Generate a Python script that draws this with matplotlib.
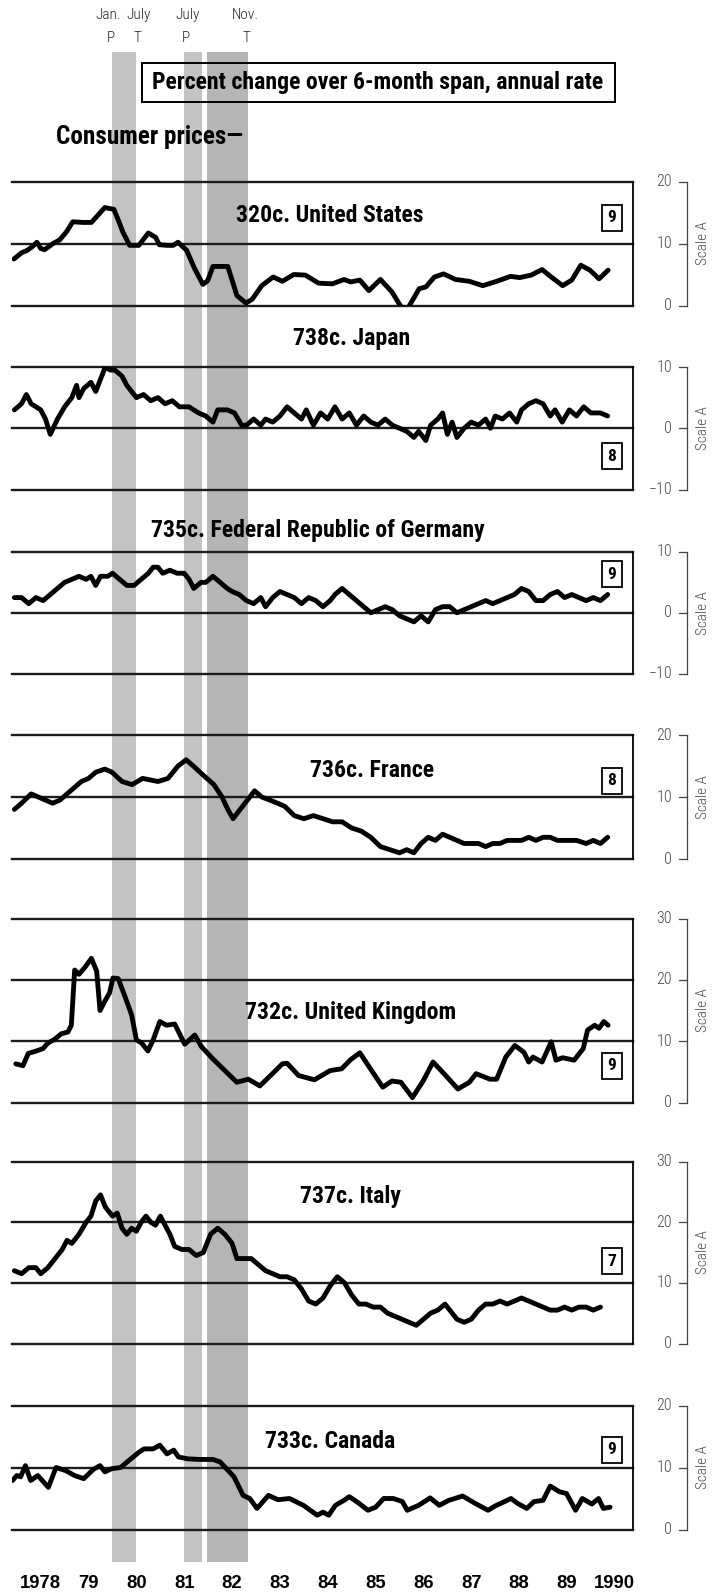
import matplotlib
matplotlib.use("Agg")
import matplotlib.pyplot as plt
from matplotlib import font_manager
from matplotlib.patches import Rectangle
from matplotlib.transforms import blended_transform_factory

W, H = 719, 1594

_have = {f.name for f in font_manager.fontManager.ttflist}


def pick(*names):
    return [n for n in names if n in _have] + ["DejaVu Sans"]


COND = pick("Liberation Sans Narrow", "Roboto Condensed", "Open Sans Condensed", "Roboto")
SANS = pick("Liberation Sans", "Roboto")

# ---- data: percent change over 6-month span, annual rate ----
us_t = [1977.94, 1978.1, 1978.22, 1978.34, 1978.42, 1978.5, 1978.58, 1978.76, 1978.9, 1979.04,
        1979.17, 1979.38, 1979.56, 1979.7, 1979.84, 1980.03, 1980.12, 1980.22, 1980.36, 1980.55,
        1980.75, 1980.9, 1980.98, 1981.15, 1981.27, 1981.37, 1981.55, 1981.72, 1981.89, 1981.99,
        1982.1, 1982.41, 1982.5, 1982.6, 1982.79, 1982.92, 1983.12, 1983.36, 1983.55, 1983.79,
        1984.03, 1984.31, 1984.6, 1984.84, 1984.98, 1985.17, 1985.36, 1985.6, 1985.84, 1986.03,
        1986.17, 1986.41, 1986.55, 1986.73, 1986.92, 1987.17, 1987.46, 1987.74, 1988.03, 1988.32,
        1988.51, 1988.75, 1988.98, 1989.17, 1989.41, 1989.6, 1989.79, 1989.98, 1990.17, 1990.36]
us_v = [7.5, 8.5, 8.9, 9.6, 10.2, 9.2, 9.0, 10.0, 10.6, 11.9,
        13.5, 13.4, 13.4, 14.6, 15.8, 15.5, 13.8, 11.8, 9.7, 9.7,
        11.7, 11.0, 9.8, 9.7, 9.7, 10.2, 8.9, 5.9, 3.4, 4.0,
        6.3, 6.3, 4.1, 1.6, 0.4, 1.0, 3.2, 4.6, 3.9, 5.0,
        4.9, 3.6, 3.5, 4.2, 3.8, 4.1, 2.4, 4.2, 2.2, -0.2,
        -0.5, 2.7, 3.0, 4.6, 5.1, 4.2, 3.9, 3.2, 3.9, 4.7,
        4.5, 4.9, 5.8, 4.6, 3.2, 4.1, 6.5, 5.7, 4.3, 5.7]

jp_t = [1977.95, 1978.1, 1978.2, 1978.3, 1978.4, 1978.5, 1978.6, 1978.7, 1978.85, 1979.0,
        1979.15, 1979.25, 1979.3, 1979.4, 1979.55, 1979.65, 1979.75, 1979.85, 1979.95, 1980.05,
        1980.2, 1980.3, 1980.4, 1980.5, 1980.65, 1980.8, 1980.95, 1981.1, 1981.25, 1981.4,
        1981.6, 1981.8, 1981.95, 1982.1, 1982.2, 1982.4, 1982.55, 1982.7, 1982.8, 1982.95,
        1983.1, 1983.2, 1983.35, 1983.5, 1983.65, 1983.8, 1983.95, 1984.05, 1984.2, 1984.35,
        1984.5, 1984.65, 1984.8, 1984.95, 1985.1, 1985.25, 1985.4, 1985.55, 1985.7, 1985.85,
        1986.0, 1986.15, 1986.3, 1986.4, 1986.55, 1986.65, 1986.8, 1986.9, 1987.0, 1987.1,
        1987.2, 1987.35, 1987.5, 1987.65, 1987.8, 1987.9, 1988.0, 1988.15, 1988.3, 1988.45,
        1988.55, 1988.7, 1988.85, 1989.0, 1989.15, 1989.25, 1989.4, 1989.55, 1989.7, 1989.85,
        1990.0, 1990.2, 1990.35]
jp_v = [3, 4, 5.5, 4, 3.5, 3, 1.5, -1, 1.5, 3.5,
        5, 7, 5, 6.5, 7.5, 6, 8, 10, 9.5, 9.5,
        8.5, 7, 6, 5, 5.5, 4.5, 5, 4, 4.5, 3.5,
        3.5, 2.5, 2, 1, 3, 3, 2.5, 0.5, 0.5, 1.5,
        0.5, 1.5, 1, 2, 3.5, 2.5, 1.5, 3, 0.5, 2.5,
        1.5, 3.5, 1.5, 2.5, 0.5, 2, 1, 0.5, 1.5, 0.5,
        0, -0.5, -1.5, -0.5, -2, 0.5, 1.5, 2.5, -1, 1,
        -1.5, 0, 1, 0.5, 1.5, 0, 2, 1.5, 2.5, 1,
        3, 4, 4.5, 4, 2, 3, 1, 3, 2, 3.5,
        2.5, 2.5, 2.0]

de_t = [1977.95, 1978.1, 1978.25, 1978.4, 1978.55, 1978.7, 1978.85, 1979.0, 1979.15, 1979.3,
        1979.45, 1979.55, 1979.65, 1979.75, 1979.9, 1980.0, 1980.15, 1980.3, 1980.45, 1980.6,
        1980.75, 1980.85, 1980.95, 1981.05, 1981.2, 1981.35, 1981.5, 1981.6, 1981.7, 1981.85,
        1981.95, 1982.1, 1982.25, 1982.4, 1982.5, 1982.65, 1982.8, 1982.95, 1983.1, 1983.2,
        1983.35, 1983.5, 1983.65, 1983.8, 1983.95, 1984.1, 1984.25, 1984.4, 1984.55, 1984.65,
        1984.8, 1984.95, 1985.1, 1985.25, 1985.4, 1985.55, 1985.7, 1985.85, 1986.0, 1986.15,
        1986.3, 1986.45, 1986.6, 1986.75, 1986.9, 1987.05, 1987.2, 1987.35, 1987.5, 1987.65,
        1987.8, 1987.95, 1988.1, 1988.25, 1988.4, 1988.55, 1988.7, 1988.85, 1989.0, 1989.15,
        1989.3, 1989.45, 1989.6, 1989.75, 1989.9, 1990.05, 1990.2, 1990.35]
de_v = [2.5, 2.5, 1.5, 2.5, 2, 3, 4, 5, 5.5, 6,
        5.5, 6, 4.5, 6, 6, 6.5, 5.5, 4.5, 4.5, 5.5,
        6.5, 7.5, 7.5, 6.5, 7, 6.5, 6.5, 5.5, 4, 5,
        5, 6, 5, 4, 3.5, 3, 2, 1.5, 2.5, 1,
        2.5, 3.5, 3, 2.5, 1.5, 2.5, 2, 1, 2, 3,
        4, 3, 2, 1, 0, 0.5, 1, 0.5, -0.5, -1,
        -1.5, -0.5, -1.5, 0.5, 1, 1, 0, 0.5, 1, 1.5,
        2, 1.5, 2, 2.5, 3, 4, 3.5, 2, 2, 3,
        3.5, 2.5, 3, 2.5, 2, 2.5, 2, 3]

fr_t = [1977.95, 1978.1, 1978.3, 1978.45, 1978.6, 1978.75, 1978.9, 1979.05, 1979.2, 1979.35,
        1979.5, 1979.65, 1979.84, 1979.99, 1980.2, 1980.41, 1980.63, 1980.95, 1981.16, 1981.37,
        1981.54, 1981.69, 1981.9, 1982.12, 1982.29, 1982.41, 1982.52, 1982.67, 1982.82, 1982.97,
        1983.12, 1983.29, 1983.45, 1983.6, 1983.8, 1984.0, 1984.2, 1984.4, 1984.6, 1984.8,
        1985.0, 1985.2, 1985.4, 1985.6, 1985.8, 1986.0, 1986.15, 1986.3, 1986.45, 1986.6,
        1986.75, 1986.9, 1987.05, 1987.2, 1987.35, 1987.5, 1987.65, 1987.8, 1987.95, 1988.1,
        1988.25, 1988.4, 1988.55, 1988.7, 1988.85, 1989.0, 1989.15, 1989.3, 1989.5, 1989.7,
        1989.9, 1990.05, 1990.2, 1990.35]
fr_v = [8, 9, 10.5, 10, 9.5, 9, 9.5, 10.5, 11.5, 12.5,
        13, 14, 14.5, 14, 12.5, 12, 13, 12.5, 13, 15,
        16, 15, 13.5, 12, 10, 8, 6.5, 8, 9.5, 11,
        10, 9.5, 9, 8.5, 7, 6.5, 7, 6.5, 6, 6,
        5, 4.5, 3.5, 2, 1.5, 1, 1.5, 1, 2.5, 3.5,
        3, 4, 3.5, 3, 2.5, 2.5, 2.5, 2, 2.5, 2.5,
        3, 3, 3, 3.5, 3, 3.5, 3.5, 3, 3, 3,
        2.5, 3, 2.5, 3.5]

uk_t = [1977.98, 1978.13, 1978.24, 1978.41, 1978.55, 1978.65, 1978.79, 1978.93, 1979.07, 1979.14,
        1979.21, 1979.3, 1979.42, 1979.56, 1979.67, 1979.74, 1979.84, 1979.94, 1980.01, 1980.12,
        1980.26, 1980.4, 1980.5, 1980.61, 1980.74, 1980.85, 1980.99, 1981.13, 1981.3, 1981.51,
        1981.72, 1981.86, 1982.1, 1982.31, 1982.6, 1982.84, 1983.08, 1983.37, 1983.55, 1983.65,
        1983.89, 1984.22, 1984.55, 1984.79, 1984.98, 1985.17, 1985.46, 1985.65, 1985.84, 1986.03,
        1986.27, 1986.5, 1986.7, 1986.93, 1987.22, 1987.46, 1987.6, 1987.89, 1988.03, 1988.22,
        1988.41, 1988.6, 1988.7, 1988.79, 1988.98, 1989.17, 1989.27, 1989.41, 1989.65, 1989.84,
        1989.93, 1990.08, 1990.17, 1990.27, 1990.36]
uk_v = [6.3, 6.0, 8.0, 8.4, 8.8, 9.7, 10.3, 11.2, 11.5, 12.6,
        21.6, 20.9, 22.0, 23.5, 21.4, 15.0, 16.5, 17.9, 20.3, 20.2,
        17.3, 14.3, 10.2, 9.7, 8.4, 10.2, 13.2, 12.6, 12.8, 9.5,
        11.0, 9.1, 7.1, 5.5, 3.3, 3.8, 2.7, 4.9, 6.3, 6.4,
        4.4, 3.7, 5.2, 5.5, 7.0, 8.1, 4.7, 2.5, 3.5, 3.3,
        0.8, 3.6, 6.6, 4.7, 2.2, 3.3, 4.7, 3.8, 3.8, 7.4,
        9.3, 8.2, 6.6, 7.4, 6.6, 9.9, 6.9, 7.3, 6.9, 8.8,
        11.8, 12.6, 12.1, 13.2, 12.6]

it_t = [1977.95, 1978.1, 1978.25, 1978.4, 1978.5, 1978.65, 1978.8, 1978.95, 1979.05, 1979.15,
        1979.3, 1979.45, 1979.55, 1979.65, 1979.75, 1979.85, 1980.0, 1980.1, 1980.2, 1980.3,
        1980.4, 1980.5, 1980.6, 1980.7, 1980.8, 1980.9, 1981.0, 1981.1, 1981.2, 1981.3,
        1981.45, 1981.6, 1981.75, 1981.9, 1982.05, 1982.2, 1982.35, 1982.5, 1982.6, 1982.75,
        1982.9, 1983.05, 1983.2, 1983.35, 1983.5, 1983.65, 1983.8, 1983.95, 1984.1, 1984.25,
        1984.4, 1984.55, 1984.7, 1984.85, 1985.0, 1985.15, 1985.3, 1985.45, 1985.6, 1985.75,
        1985.9, 1986.05, 1986.2, 1986.35, 1986.5, 1986.65, 1986.8, 1986.95, 1987.05, 1987.2,
        1987.35, 1987.5, 1987.65, 1987.8, 1987.95, 1988.1, 1988.25, 1988.4, 1988.55, 1988.7,
        1988.85, 1989.0, 1989.15, 1989.3, 1989.45, 1989.6, 1989.75, 1989.9, 1990.05, 1990.2]
it_v = [12, 11.5, 12.5, 12.5, 11.5, 12.5, 14, 15.5, 17, 16.5,
        18, 20, 21, 23.5, 24.5, 22.5, 21, 21.5, 19, 18,
        19, 18.5, 20, 21, 20, 19.5, 21, 19.5, 18, 16,
        15.5, 15.5, 14.5, 15, 18, 19, 18, 16.5, 14, 14,
        14, 13, 12, 11.5, 11, 11, 10.5, 9, 7, 6.5,
        7.5, 9.5, 11, 10, 8, 6.5, 6.5, 6, 6, 5,
        4.5, 4, 3.5, 3, 4, 5, 5.5, 6.5, 5.5, 4,
        3.5, 4, 5.5, 6.5, 6.5, 7, 6.5, 7, 7.5, 7,
        6.5, 6, 5.5, 5.5, 6, 5.5, 6, 6, 5.5, 6]

ca_t = [1977.91, 1978.0, 1978.08, 1978.18, 1978.29, 1978.44, 1978.66, 1978.82, 1979.02, 1979.21,
        1979.4, 1979.6, 1979.74, 1979.84, 1979.98, 1980.17, 1980.37, 1980.56, 1980.66, 1980.85,
        1980.99, 1981.14, 1981.28, 1981.38, 1981.57, 1981.81, 1982.1, 1982.25, 1982.54, 1982.73,
        1982.87, 1983.02, 1983.26, 1983.46, 1983.7, 1983.99, 1984.28, 1984.4, 1984.52, 1984.66,
        1984.86, 1984.95, 1985.14, 1985.34, 1985.5, 1985.67, 1985.87, 1986.06, 1986.16, 1986.4,
        1986.64, 1986.83, 1987.03, 1987.32, 1987.56, 1987.85, 1988.0, 1988.14, 1988.33, 1988.47,
        1988.66, 1988.81, 1989.0, 1989.15, 1989.34, 1989.49, 1989.68, 1989.82, 1990.02, 1990.16,
        1990.26, 1990.4]
ca_v = [7.9, 8.7, 8.5, 10.3, 7.9, 8.7, 6.8, 10.0, 9.5, 8.7,
        8.2, 9.7, 10.3, 9.3, 9.8, 10.0, 11.3, 12.5, 13.0, 13.0,
        13.6, 12.2, 12.8, 11.7, 11.4, 11.3, 11.3, 10.9, 8.5, 5.5,
        5.0, 3.4, 5.5, 4.8, 5.0, 3.9, 2.3, 2.8, 2.3, 3.9,
        4.8, 5.3, 4.3, 3.1, 3.6, 5.0, 5.0, 4.5, 3.1, 3.9,
        5.1, 3.9, 4.7, 5.4, 4.3, 3.1, 3.8, 4.3, 5.0, 4.2,
        3.4, 4.5, 4.7, 7.0, 6.1, 5.8, 3.1, 5.0, 4.1, 5.0,
        3.4, 3.6]

# business cycle peaks (P) and troughs (T); the 1981-82 band prints with a thin gap
recessions = [(1980.0, 1980.5), (1981.5, 1981.87), (1981.97, 1982.83)]
turn_dates = [1980.0, 1980.5, 1981.5, 1982.83]
turn_months = ["Jan.", "July", "July", "Nov."]
turn_marks = ["P", "T", "P", "T"]
years = list(range(1978, 1991))
year_labels = ["1978"] + [str(y)[2:] for y in range(1979, 1990)] + ["1990"]

# name, times, values, (low, high), top px, bottom px, title xy px, box label, box y px
panels = [
    ("320c. United States", us_t, us_v, (0, 20), 181.5, 305.5, (330, 215), "9", 218),
    ("738c. Japan", jp_t, jp_v, (-10, 10), 367, 489.5, (352, 339), "8", 456),
    ("735c. Federal Republic of Germany", de_t, de_v, (-10, 10), 552, 673.5, (318, 531), "9", 574),
    ("736c. France", fr_t, fr_v, (0, 20), 735, 859, (372, 770), "8", 781),
    ("732c. United Kingdom", uk_t, uk_v, (0, 30), 918.5, 1102.5, (351, 1012), "9", 1066),
    ("737c. Italy", it_t, it_v, (0, 30), 1161.5, 1343.5, (350, 1196), "7", 1261),
    ("733c. Canada", ca_t, ca_v, (0, 20), 1405.5, 1529.5, (330, 1441), "9", 1450),
]

X0, X1 = 1977.9, 1990.88
LEFT, RIGHT = 12, 633


def fx(px):
    return px / W


def fy(py):
    return 1 - py / H


fig = plt.figure(figsize=(W / 100, H / 100), dpi=100)
fig.patch.set_facecolor("white")
renderer = fig.canvas.get_renderer()


def fit(texts, ref, width_px):
    # scale a group of texts so that `ref` spans width_px pixels
    w = ref.get_window_extent(renderer).width
    k = width_px / w
    for t in texts:
        t.set_fontsize(t.get_fontsize() * k)


# tall background axes carrying the recession shading
bg = fig.add_axes([fx(LEFT), fy(1562), (RIGHT - LEFT) / W, (1562 - 52) / H], zorder=0)
bg.set_xlim(X0, X1)
bg.set_ylim(0, 1)
bg.axis("off")
for i, (a, b) in enumerate(recessions):
    bg.axvspan(a, b, color="#c3c3c3" if i < 2 else "#b5b5b5", lw=0)

top = blended_transform_factory(bg.transData, fig.transFigure)
nudge = [-0.09, 0.05, 0.06, -0.05]
for d, m, pt, dx in zip(turn_dates, turn_months, turn_marks, nudge):
    fig.text(d + dx, fy(15), m, transform=top, ha="center", va="center",
             family=COND, fontsize=11, fontweight="light", color="#222222")
    fig.text(d + dx / 2, fy(38), pt, transform=top, ha="center", va="center",
             family=COND, fontsize=11, fontweight="light", color="#222222")
ylabs = []
for y, lab in zip(years, year_labels):
    ylabs.append(fig.text(y + 0.5, fy(1584), lab, transform=top, ha="center", va="center",
                          family=SANS, fontsize=13, fontweight="bold", color="black"))
fit(ylabs, ylabs[0], 41)

# headline box and section label
fig.patches.append(Rectangle((fx(142), fy(102)), (615 - 142) / W, 39 / H,
                             transform=fig.transFigure, fill=False, ec="black", lw=1.4, zorder=3))
head = fig.text(fx(378), fy(83), "Percent change over 6-month span, annual rate",
                ha="center", va="center", family=COND, fontsize=15, fontweight="bold", zorder=4)
fit([head], head, 450)
sect = fig.text(fx(56), fy(137), "Consumer prices\u2014", ha="left", va="center",
                family=COND, fontsize=15, fontweight="bold", zorder=4)
fit([sect], sect, 187)

span = RIGHT - LEFT
titles = []
for name, t, v, (lo, hi), ptop, pbot, (tx, ty), box, by in panels:
    ax = fig.add_axes([fx(LEFT), fy(pbot), span / W, (pbot - ptop) / H], zorder=2)
    ax.patch.set_alpha(0)
    ax.set_xlim(X0, X1)
    ax.set_ylim(lo, hi)
    for s in ("left", "top", "bottom"):
        ax.spines[s].set_visible(False)
    ax.spines["right"].set_linewidth(1.3)
    ax.set_xticks([])
    ax.set_yticks([])
    levels = list(range(lo, hi + 1, 10))
    for lv in levels:
        ax.axhline(lv, color="#1c1c1c", lw=1.7, clip_on=False, zorder=1)
    ax.plot(t, v, color="black", lw=3.5, solid_joinstyle="round",
            solid_capstyle="round", zorder=3)

    # scale bracket to the right of the panel
    tr = ax.get_yaxis_transform()
    xb = (687 - LEFT) / span
    xt = (679 - LEFT) / span
    xl = (672 - LEFT) / span
    ax.plot([xb, xb], [lo, hi], transform=tr, clip_on=False, color="#444444", lw=0.9)
    for lv in levels:
        ax.plot([xt, xb], [lv, lv], transform=tr, clip_on=False, color="#444444", lw=0.9)
        lab = str(lv).replace("-", "\u2212")
        ax.text(xl, lv, lab, transform=tr, ha="right", va="center",
                family=COND, fontsize=11.5, fontweight="light", color="#4a4a4a")
    ax.text((703 - LEFT) / span, (lo + hi) / 2, "Scale A", transform=tr,
            rotation=90, ha="center", va="center", family=COND,
            fontsize=11, fontweight="light", color="#4a4a4a")

    titles.append(fig.text(fx(tx), fy(ty), name, ha="center", va="center", family=COND,
                           fontsize=15, fontweight="bold", zorder=5))
    fig.text(fx(612), fy(by), box, ha="center", va="center", family=COND,
             fontsize=12.5, fontweight="bold", zorder=5,
             bbox=dict(boxstyle="square,pad=0.3", fc="white", ec="black", lw=1.3))

fit(titles, titles[0], 188)

fig.savefig("out.png", dpi=100, facecolor="white")
